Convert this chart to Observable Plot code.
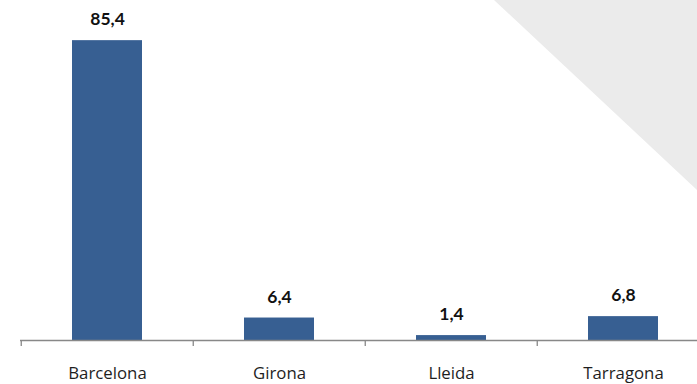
<!DOCTYPE html>
<html>
<head>
<meta charset="utf-8">
<script src="https://cdn.jsdelivr.net/npm/d3@7"></script>
<script src="https://cdn.jsdelivr.net/npm/@observablehq/plot@0.6"></script>
<style>
  html, body { margin: 0; padding: 0; background: #fff; }
  #wrap { position: relative; width: 697px; height: 384px; overflow: hidden; }
  /* decorative light-gray corner shape behind the chart */
  #corner {
    position: absolute; left: 0; top: 0; width: 697px; height: 384px;
    background: #ebebeb;
    clip-path: polygon(494px 0, 697px 0, 697px 190px);
  }
  #chart { position: absolute; left: 0; top: 0; }
  #chart svg { background: transparent; }
</style>
</head>
<body>
<div id="wrap"><div id="corner"></div><div id="chart"></div></div>
<script>
const provinces = ["Barcelona", "Girona", "Lleida", "Tarragona"];
const shares = [85.4, 6.4, 1.4, 6.8];
const shareLabels = ["85,4", "6,4", "1,4", "6,8"];

const data = provinces.map((p, i) => ({province: p, value: shares[i], label: shareLabels[i]}));

const W = 697, H = 384;
const xRange = [20, 710];
const step = (xRange[1] - xRange[0]) / provinces.length;
const barColor = "#375f92";
const axisColor = "#888888";

const chart = Plot.plot({
  width: W,
  height: H,
  marginTop: 24,
  marginBottom: 44,
  marginLeft: 20,
  marginRight: 0,
  style: {background: "transparent", fontFamily: "'Open Sans', sans-serif"},
  x: {domain: provinces, range: xRange, padding: 0, axis: null},
  y: {domain: [0, 90], axis: null},
  marks: [
    Plot.barY(data, {x: "province", y: "value", fill: barColor, insetLeft: 51, insetRight: 51}),
    Plot.ruleY([0], {stroke: axisColor, strokeWidth: 1.3}),
    Plot.axisX({ticks: provinces, tickSize: 6, text: null, label: null, dx: -step / 2, stroke: axisColor, strokeWidth: 1.3, strokeOpacity: 1}),
    Plot.text(data, {x: "province", y: "value", text: "label", dy: -21, fontSize: 17.5, fontWeight: "bold", fontFamily: "Lato, sans-serif", fill: "#111"}),
    Plot.text(data, {x: "province", y: 0, text: "province", dy: 33.5, fontSize: 16.8, fontWeight: 400, fill: "#1e1e1e"})
  ]
});
document.getElementById("chart").appendChild(chart);
</script>
</body>
</html>
